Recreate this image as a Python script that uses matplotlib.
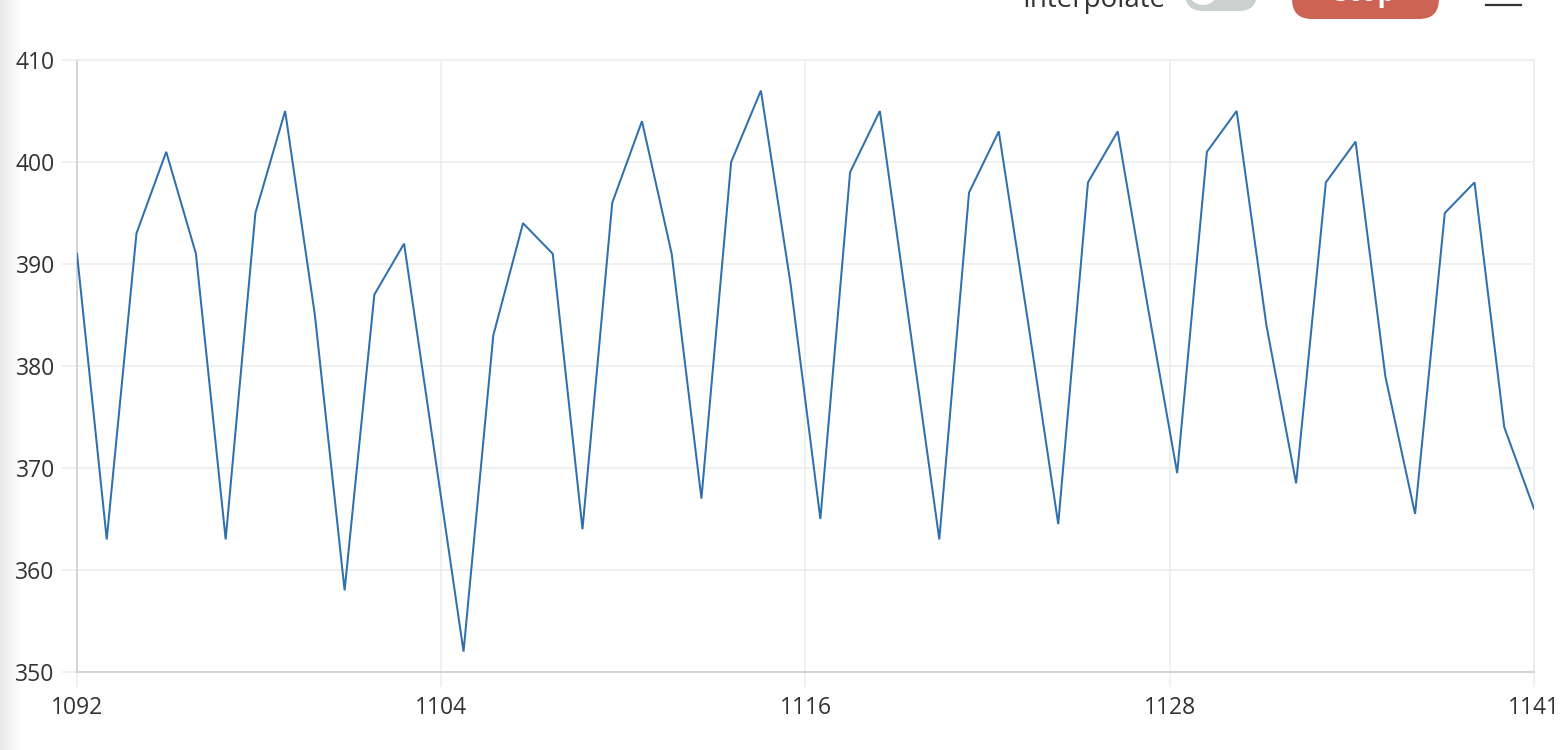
import numpy as np
import matplotlib
matplotlib.use("Agg")
import matplotlib.pyplot as plt
from matplotlib.patches import FancyBboxPatch, Circle
from matplotlib.ticker import FixedLocator, FixedFormatter

# ---- data ----
x_values = list(range(1092, 1142))
y_values = [391, 363, 393, 401, 391, 363, 395, 405, 385, 358,
            387, 392, 372, 352, 383, 394, 391, 364, 396, 404,
            391, 367, 400, 407, 388, 365, 399, 405, 384, 363,
            397, 403, 384, 364.5, 398, 403, 386, 369.5, 401, 405,
            384, 368.5, 398, 402, 379, 365.5, 395, 398, 374, 366]
y_ticks = [350, 360, 370, 380, 390, 400, 410]
n_x_ticks = 5

W, H = 1568, 750
DPI = 100
plt.rcParams['font.family'] = ['Open Sans', 'DejaVu Sans']

fig = plt.figure(figsize=(W / DPI, H / DPI), dpi=DPI)
fig.patch.set_facecolor('white')

# left shadow gradient
gax = fig.add_axes([0, 0, 22 / W, 1])
grad = np.linspace(0.915, 1.0, 64).reshape(1, -1)
gax.imshow(np.dstack([grad, grad, grad]), aspect='auto', extent=[0, 1, 0, 1])
gax.set_axis_off()

L, R, T, B = 77, 1534, 60, 672
ax = fig.add_axes([L / W, 1 - B / H, (R - L) / W, (B - T) / H])

grid_c = '#eceeee'
axis_c = '#d3d5d5'
text_c = '#333333'

ax.plot(x_values, y_values, color='#2f70ad', lw=1.45, solid_joinstyle='miter', zorder=3)

xmin, xmax = min(x_values), max(x_values)
ax.set_xlim(xmin, xmax)
ax.set_ylim(min(y_ticks), max(y_ticks))

xt = np.linspace(xmin, xmax, n_x_ticks)
ax.xaxis.set_major_locator(FixedLocator(xt))
ax.xaxis.set_major_formatter(FixedFormatter([str(int(np.floor(v))) for v in xt]))
ax.set_yticks(y_ticks)
ax.set_yticklabels([str(v) for v in y_ticks])

ax.grid(True, color=grid_c, lw=1.2, zorder=0)
ax.set_axisbelow(True)
for s in ['top', 'right']:
    ax.spines[s].set_color(grid_c)
    ax.spines[s].set_linewidth(1.2)
for s in ['left', 'bottom']:
    ax.spines[s].set_color(axis_c)
    ax.spines[s].set_linewidth(1.4)

ax.tick_params(axis='both', length=11, width=1.2, color=grid_c,
               labelcolor=text_c, labelsize=16.5)
ax.tick_params(axis='y', pad=5)
ax.tick_params(axis='x', pad=6)

# ---- top UI fragments (clipped by figure edge), drawn in pixel coords ----
ui = fig.add_axes([0, 0, 1, 1], zorder=5)
ui.set_xlim(0, W)
ui.set_ylim(H, 0)
ui.set_axis_off()
ui.patch.set_alpha(0)

ui.text(1022, 7, 'Interpolate', fontsize=20, color='#333333',
        ha='left', va='baseline')
# toggle
ui.add_patch(FancyBboxPatch((1185, -30), 72, 41,
                            boxstyle='round,pad=0,rounding_size=18',
                            facecolor='#c9d2cf', edgecolor='none'))
ui.add_patch(Circle((1203, -10), 15, facecolor='white', edgecolor='none'))
# red button
ui.add_patch(FancyBboxPatch((1292, -40), 147, 59,
                            boxstyle='round,pad=0,rounding_size=20',
                            facecolor='#cd6352', edgecolor='none'))
ui.text(1365, 1, 'Stop', fontsize=20, color='white', ha='center',
        va='baseline', fontweight='bold')
# hamburger line
ui.plot([1486, 1521], [5, 5], color='#333333', lw=1.6)

fig.savefig('out.png', dpi=DPI, facecolor='white')
